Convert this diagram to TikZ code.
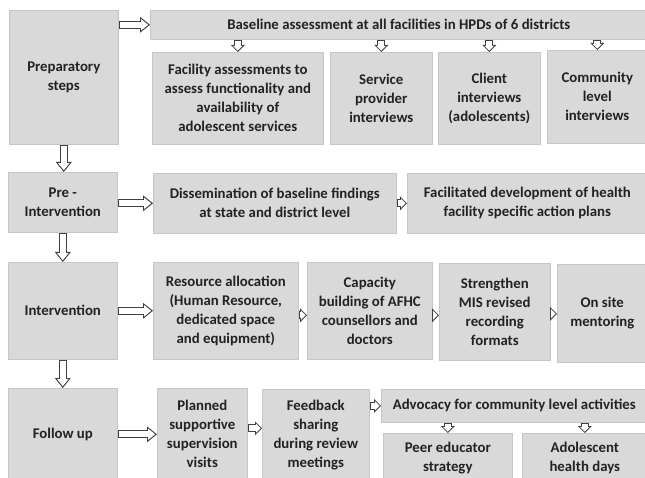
\documentclass[tikz,border=0pt]{standalone}
\usepackage{fontspec}
\setmainfont{Carlito}
\usetikzlibrary{arrows.meta}
\definecolor{boxfill}{HTML}{D9D9D9}
\definecolor{boxline}{HTML}{C6C6C6}
\definecolor{arrline}{HTML}{404040}
\definecolor{txt}{HTML}{222222}

\tikzset{
  stage/.style={draw=boxline, fill=boxfill, text=txt, line width=0.6pt,
    font=\fontsize{14.8}{19}\selectfont\bfseries, align=center,
    anchor=north west, inner sep=1pt},
  wh/.style 2 args={minimum width=#1pt, minimum height=#2pt},
  bigout/.style={draw=arrline, line width=8pt,
    -{Triangle[length=10pt, width=16pt, line width=0pt]}},
  bigin/.style={draw=white, line width=5.8pt, shorten <=1.1pt, shorten >=1.76pt,
    -{Triangle[length=7.14pt, width=11.42pt, line width=0pt]}},
  smallout/.style={draw=arrline, line width=8pt,
    -{Triangle[length=7pt, width=14pt, line width=0pt]}},
  smallin/.style={draw=white, line width=6pt, shorten <=1pt, shorten >=1.41pt,
    -{Triangle[length=4.59pt, width=9.17pt, line width=0pt]}}
}

\begin{document}
\begin{tikzpicture}[x=1pt, y=-1pt]
\useasboundingbox (0,0) rectangle (645,478);

% left column
\node[stage, wh={109}{134}] (prep) at (9,10) {Preparatory\\steps};
\node[stage, wh={109}{60}] (preint) at (8,172) {Pre -\\Intervention};
\node[stage, wh={109}{97}] (interv) at (8,262) {Intervention};
\node[stage, wh={109}{92}] (followup) at (8,388) {Follow up};

% preparatory steps
\node[stage, wh={497}{29}] (base) at (150,10) {Baseline assessment at all facilities in HPDs of 6 districts};
\node[stage, wh={171}{92}] (facility) at (152,52) {Facility assessments to\\assess functionality and\\availability of\\adolescent services};
\node[stage, wh={102}{92}] (service) at (330,52) {Service\\provider\\interviews};
\node[stage, wh={102}{92}] (client) at (438,52) {Client\\interviews\\(adolescents)};
\node[stage, wh={100}{93}] (community) at (547,50) {Community\\level\\interviews};

% pre-intervention
\node[stage, wh={243}{60}] (dissem) at (153,173) {Dissemination of baseline findings\\at state and district level};
\node[stage, wh={240}{60}] (plans) at (407,173) {Facilitated development of health\\facility specific action plans};

% intervention
\node[stage, wh={145}{97}] (resource) at (153,262) {Resource allocation\\(Human Resource,\\dedicated space\\and equipment)};
\node[stage, wh={125}{97}] (capacity) at (307,262) {Capacity\\building of AFHC\\counsellors and\\doctors};
\node[stage, wh={111}{97}] (mis) at (439,263) {Strengthen\\MIS revised\\recording\\formats};
\node[stage, wh={90}{98}] (mentor) at (557,264) {On site\\mentoring};

% follow up
\node[stage, wh={90}{92}] (visits) at (157,388) {Planned\\supportive\\supervision\\visits};
\node[stage, wh={107}{91}] (feedback) at (262,389) {Feedback\\sharing\\during review\\meetings};
\node[stage, wh={266}{33}] (advocacy) at (381,389) {Advocacy for community level activities};
\node[stage, wh={129}{49}] (peer) at (383,433) {Peer educator\\strategy};
\node[stage, wh={125}{49}] (healthdays) at (522,433) {Adolescent\\health days};

% block arrows
\foreach \a/\b in {prep/base, preint/dissem, interv/resource, followup/visits}{
  \draw[bigout] (\b.west -| \a.east) -- (\b.west);
  \draw[bigin] (\b.west -| \a.east) -- (\b.west);
}
\foreach \a/\b in {prep/preint, preint/interv, interv/followup}{
  \draw[bigout] (\a.south) -- (\a.south |- \b.north);
  \draw[bigin] (\a.south) -- (\a.south |- \b.north);
}
\foreach \a/\b in {base/facility, base/service, base/client, base/community, advocacy/peer, advocacy/healthdays}{
  \draw[smallout] (\a.south -| \b.north) -- (\b.north);
  \draw[smallin] (\a.south -| \b.north) -- (\b.north);
}
\foreach \a/\b/\dy in {dissem/plans/0pt, resource/capacity/-4.5pt, capacity/mis/-4.5pt, mis/mentor/-2pt, visits/feedback/6pt}{
  \draw[smallout] ([yshift=\dy]\a.east) -- ([yshift=\dy]\a.east -| \b.west);
  \draw[smallin] ([yshift=\dy]\a.east) -- ([yshift=\dy]\a.east -| \b.west);
}
\draw[smallout] (feedback.east |- advocacy.west) -- (advocacy.west);
\draw[smallin] (feedback.east |- advocacy.west) -- (advocacy.west);

\end{tikzpicture}
\end{document}
